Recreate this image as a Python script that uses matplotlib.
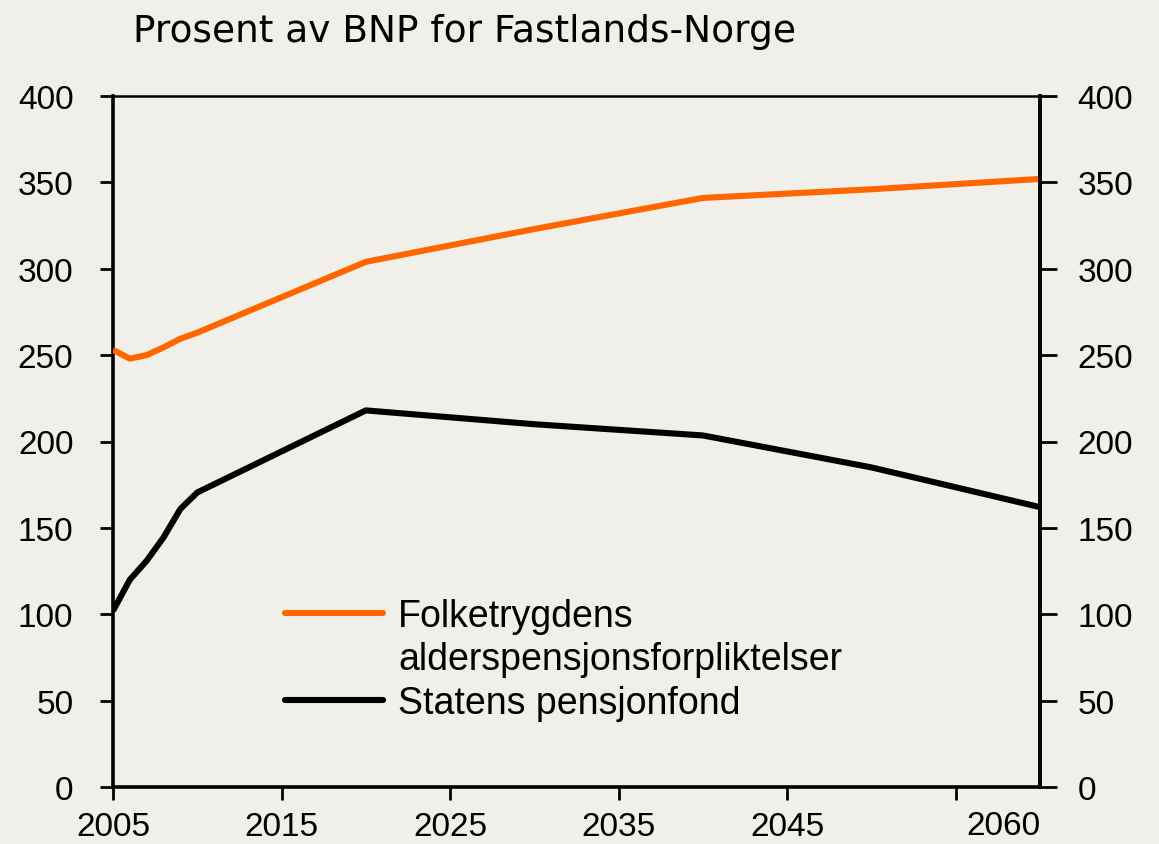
import matplotlib.pyplot as plt
from matplotlib.lines import Line2D
from matplotlib.transforms import blended_transform_factory

# data
years = [2005, 2006, 2007, 2008, 2009, 2010, 2020, 2030, 2040, 2050, 2060]
folketrygd = [253, 248, 250, 254.5, 259.5, 263, 304, 323, 341, 346, 352]
pensjonsfond = [102, 120, 131, 144.5, 161, 170.5, 218, 210, 203.5, 185, 162]

xticks = [2005, 2015, 2025, 2035, 2045, 2055]
xticklabels = ['2005', '2015', '2025', '2035', '2045', '']
yticks = [0, 50, 100, 150, 200, 250, 300, 350, 400]
series_labels = ['Folketrygdens', 'alderspensjonsforpliktelser', 'Statens pensjonfond']
title = 'Prosent av BNP for Fastlands-Norge'

bg = '#f0efe9'
orange = '#ff6600'
tick_fs = 24
legend_fs = 27

plt.rcParams['font.family'] = ['Liberation Sans', 'DejaVu Sans']

fig = plt.figure(figsize=(11.59, 8.45), dpi=100, facecolor=bg)
ax = fig.add_axes([113 / 1159, 1 - 788 / 845, (1040 - 113) / 1159, (788 - 97) / 845])
ax.set_facecolor(bg)

ax.plot(years, folketrygd, color=orange, lw=4.4, solid_capstyle='butt', zorder=3)
ax.plot(years, pensjonsfond, color='black', lw=4.4, solid_capstyle='butt', zorder=3)

ax.set_xlim(2005, 2060)
ax.set_ylim(0, 400)
ax.set_xticks(xticks)
ax.set_xticklabels(xticklabels)
ax.set_yticks(yticks)

for side in ['left', 'right', 'bottom']:
    ax.spines[side].set_linewidth(2.6)
ax.spines['top'].set_linewidth(1.8)

ax.tick_params(axis='y', direction='out', length=9.5, width=2, labelsize=tick_fs, pad=19)
ax.tick_params(axis='x', direction='out', length=9, width=2, labelsize=tick_fs, pad=8)

# right-hand axis with its own tick length and spacing
ax2 = ax.twinx()
ax2.set_ylim(0, 400)
ax2.set_yticks(yticks)
for side in ['left', 'bottom', 'top']:
    ax2.spines[side].set_visible(False)
ax2.spines['right'].set_linewidth(2.6)
ax2.tick_params(axis='y', direction='out', length=12, width=2, labelsize=tick_fs, pad=15)

trans = blended_transform_factory(ax.transData, ax.transAxes)
ax.text(2060, -0.034, '2060', transform=trans, ha='right', va='top', fontsize=tick_fs)

handles = [Line2D([], [], color=orange, lw=4.4, solid_capstyle='round'),
           Line2D([], [], color='none'),
           Line2D([], [], color='black', lw=4.4, solid_capstyle='round')]
ax.legend(handles, series_labels, loc='upper left', bbox_to_anchor=(0.186, 0.274),
          frameon=False, fontsize=legend_fs, handlelength=2.6, handletextpad=0.4,
          labelspacing=0.2, borderpad=0, borderaxespad=0)

fig.text(133 / 1159, 1 - 42 / 845, title, fontsize=27, family='DejaVu Sans',
         va='baseline', ha='left')

fig.savefig('out.png', dpi=100, facecolor=bg)
